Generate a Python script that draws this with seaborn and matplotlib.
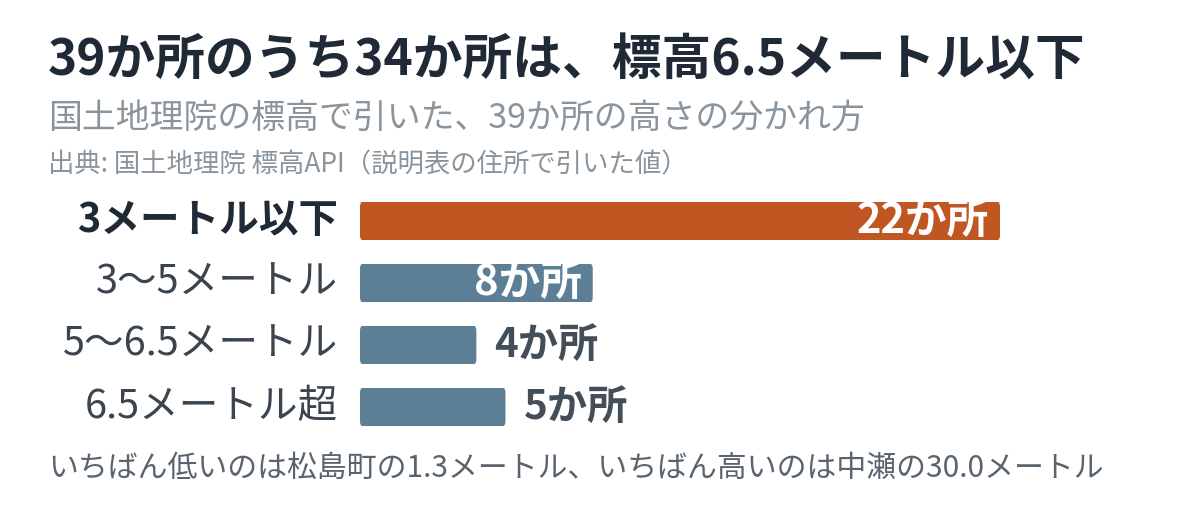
import matplotlib
matplotlib.use("Agg")
import matplotlib.pyplot as plt
import seaborn as sns
import pandas as pd
from matplotlib.patches import FancyBboxPatch

categories = ["3メートル以下", "3〜5メートル", "5〜6.5メートル", "6.5メートル超"]
counts = [22, 8, 4, 5]
value_labels = ["22か所", "8か所", "4か所", "5か所"]
title = "39か所のうち34か所は、標高6.5メートル以下"
subtitle = "国土地理院の標高で引いた、39か所の高さの分かれ方"
source = "出典: 国土地理院 標高API（説明表の住所で引いた値）"
footer = "いちばん低いのは松島町の1.3メートル、いちばん高いのは中瀬の30.0メートル"

sns.set_theme(style="white")
plt.rcParams["font.family"] = ["Noto Sans CJK JP", "DejaVu Sans"]

W, H = 1200, 514
fig = plt.figure(figsize=(12, 5.14), dpi=100)
fig.patch.set_facecolor("white")

# axes: left at 360px, 22 maps to 1000px
left_px, right_px = 360, 1100
ax = fig.add_axes([left_px / W, 1 - 438 / H, (right_px - left_px) / W, 248 / H])
xmax = 22 * (right_px - left_px) / (1000 - left_px)

df = pd.DataFrame({"cat": categories, "n": counts})
orange = "#C05621"
blue = "#5C7F96"
palette = [orange, blue, blue, blue]
sns.barplot(data=df, y="cat", x="n", hue="cat", palette=palette, legend=False,
            orient="h", width=0.613, ax=ax, saturation=1)

# round the corners slightly
for p in list(ax.patches):
    x0, y0 = p.get_x(), p.get_y()
    w, h = p.get_width(), p.get_height()
    fc = p.get_facecolor()
    p.remove()
    fb = FancyBboxPatch((x0, y0), w, h,
                        boxstyle="round,pad=0,rounding_size=0.08",
                        facecolor=fc, edgecolor="none")
    ax.add_patch(fb)

ax.set_xlim(0, xmax)
ax.set_ylim(3.5, -0.5)
ax.axis("off")

# category labels
for i, c in enumerate(categories):
    ax.annotate(c, xy=(0, i), xytext=(-22 * 72 / 100, 0), textcoords="offset points",
                ha="right", va="center", fontsize=28.5,
                fontweight="bold" if i == 0 else "normal",
                color="#1F2A36" if i == 0 else "#3A4550")

# value labels
for i, (v, lab) in enumerate(zip(counts, value_labels)):
    if v >= 8:
        ax.annotate(lab, xy=(v, i), xytext=(-11 * 72 / 100, 0), textcoords="offset points",
                    ha="right", va="center", fontsize=30, fontweight="bold", color="white")
    else:
        ax.annotate(lab, xy=(v, i), xytext=(18 * 72 / 100, 0), textcoords="offset points",
                    ha="left", va="center", fontsize=29, fontweight="bold", color="#444E58",
                    annotation_clip=False)

fig.text(48 / W, 1 - 61 / H, title, ha="left", va="center", fontsize=35.8,
         fontweight="bold", color="#1F2A36")
fig.text(48 / W, 1 - 118 / H, subtitle, ha="left", va="center", fontsize=24.4,
         color="#8A949C")
fig.text(48 / W, 1 - 165 / H, source, ha="left", va="center", fontsize=19,
         color="#8A949C")
fig.text(48 / W, 1 - 468 / H, footer, ha="left", va="center", fontsize=21.5,
         color="#5A646E")

fig.savefig("out.png", dpi=100, facecolor="white")
